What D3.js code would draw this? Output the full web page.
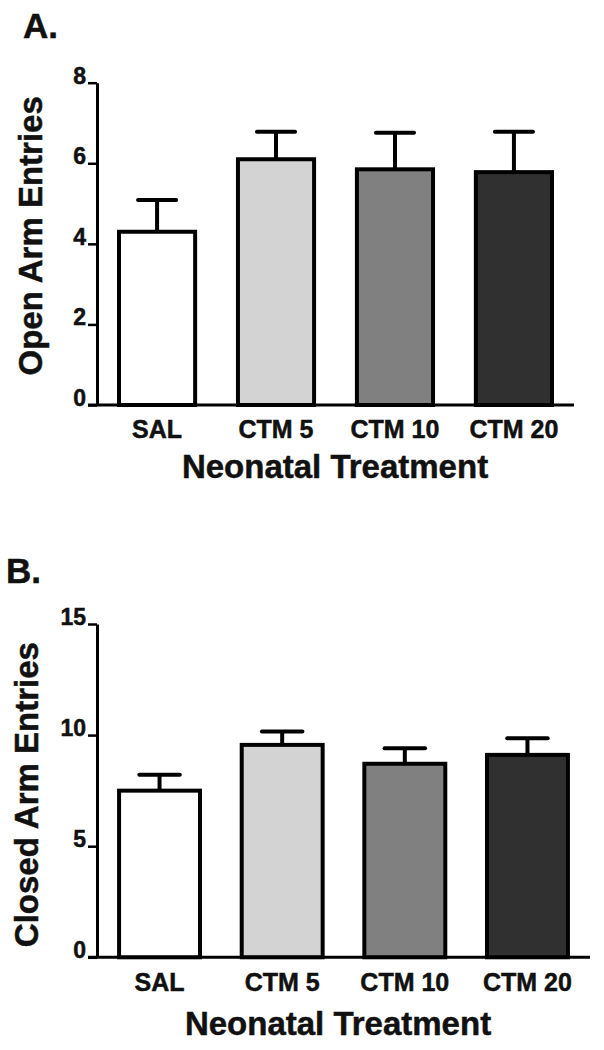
<!DOCTYPE html>
<html><head><meta charset="utf-8">
<script src="https://cdn.jsdelivr.net/npm/d3@7"></script>
<style>
body{margin:0;background:#fff}
text{font-family:"Liberation Sans",Arial,sans-serif;font-weight:bold;fill:#111;stroke:#111;stroke-width:0.5px}
</style>
</head><body><svg id="c" width="604" height="1050"></svg>
<script>
const categories = ["SAL", "CTM 5", "CTM 10", "CTM 20"];
const barColors = ["#ffffff", "#d3d3d3", "#808080", "#303030"];
const openMeans = [4.3, 6.1, 5.85, 5.78];
const openSem = [0.79, 0.68, 0.91, 1.0];
const openTicks = [0, 2, 4, 6, 8];
const closedMeans = [7.5, 9.56, 8.71, 9.11];
const closedSem = [0.71, 0.6, 0.7, 0.75];
const closedTicks = [0, 5, 10, 15];

const svg = d3.select("#c");

function panel(cfg) {
  const g = svg.append("g");
  const x = d3.scaleBand().domain(categories).range([cfg.x0, cfg.x1])
    .paddingInner(cfg.pi).paddingOuter(cfg.po);
  const y = d3.scaleLinear().domain([0, cfg.yMax]).range([cfg.yB, cfg.yT]);
  const data = categories.map((c, i) => ({c, m: cfg.means[i], s: cfg.sem[i], col: barColors[i]}));

  const capW = x.bandwidth() * 0.5;
  g.selectAll(".stem").data(data).join("line")
    .attr("x1", d => x(d.c) + x.bandwidth() / 2).attr("x2", d => x(d.c) + x.bandwidth() / 2)
    .attr("y1", d => y(d.m)).attr("y2", d => y(d.m + d.s))
    .attr("stroke", "#000").attr("stroke-width", 4);
  g.selectAll(".cap").data(data).join("line")
    .attr("x1", d => x(d.c) + x.bandwidth() / 2 - capW / 2).attr("x2", d => x(d.c) + x.bandwidth() / 2 + capW / 2)
    .attr("y1", d => y(d.m + d.s)).attr("y2", d => y(d.m + d.s))
    .attr("stroke", "#000").attr("stroke-width", 4).attr("stroke-linecap", "round");

  g.selectAll(".bar").data(data).join("rect")
    .attr("x", d => x(d.c)).attr("width", x.bandwidth())
    .attr("y", d => y(d.m)).attr("height", d => y(0) - y(d.m))
    .attr("fill", d => d.col).attr("stroke", "#000").attr("stroke-width", 4);

  g.append("line").attr("x1", cfg.x0 - 9).attr("x2", cfg.x1)
    .attr("y1", y(0)).attr("y2", y(0)).attr("stroke", "#000").attr("stroke-width", 3);

  const ya = g.append("g").attr("transform", `translate(${cfg.x0},0)`)
    .call(d3.axisLeft(y).tickValues(cfg.ticks).tickSize(9).tickSizeOuter(0).tickPadding(2));
  ya.attr("font-size", null).attr("font-family", null);
  ya.select(".domain").attr("stroke", "#000").attr("stroke-width", 3);
  ya.selectAll(".tick line").attr("stroke", "#000").attr("stroke-width", 2.5);
  ya.selectAll(".tick text").attr("font-size", 23).style("font-size", "23px").attr("dy", "0.02em")
    .style("font-weight", "bold").style("fill", "#111");

  g.selectAll(".xl").data(categories).join("text")
    .attr("x", d => x(d) + x.bandwidth() / 2).attr("y", cfg.xLabY)
    .attr("text-anchor", "middle").style("font-size", "25px").text(d => d);

  g.append("text").attr("x", cfg.xTitleX).attr("y", cfg.xTitleY)
    .attr("text-anchor", "middle").style("font-size", "33px").text("Neonatal Treatment");

  g.append("text").attr("transform", `translate(${cfg.yTitleX},${(cfg.yT + cfg.yB) / 2 + cfg.yTitleOff}) rotate(-90)`)
    .attr("text-anchor", "middle").style("font-size", "33px").text(cfg.yTitle);

  g.append("text").attr("x", cfg.letX).attr("y", cfg.letY).style("font-size", "35px").text(cfg.letter);
}

panel({letter: "A.", letX: 23, letY: 38, x0: 97, x1: 574, pi: 0.36, po: 0.185,
  yMax: 8, yB: 405, yT: 82.7, ticks: openTicks, means: openMeans, sem: openSem,
  xLabY: 438, xTitleX: 335, xTitleY: 478, yTitle: "Open Arm Entries", yTitleX: 42, yTitleOff: -8});

panel({letter: "B.", letX: 6, letY: 583, x0: 97, x1: 590, pi: 0.34, po: 0.18,
  yMax: 15, yB: 957.3, yT: 624, ticks: closedTicks, means: closedMeans, sem: closedSem,
  xLabY: 991, xTitleX: 338, xTitleY: 1035, yTitle: "Closed Arm Entries", yTitleX: 38, yTitleOff: 4});
</script>
</body></html>
